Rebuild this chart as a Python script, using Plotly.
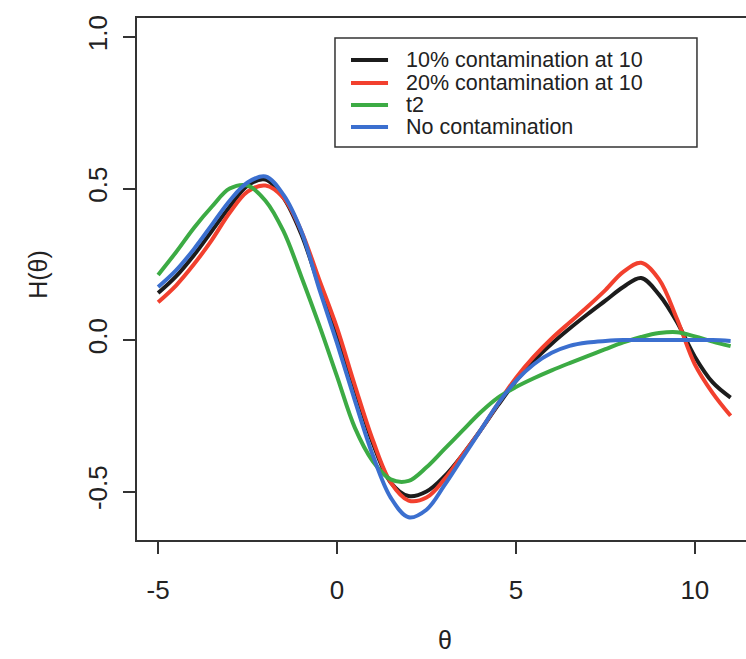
import plotly.graph_objects as go

theta = [-5, -4.5, -4, -3.5, -3, -2.5, -2, -1.5, -1, -0.5, 0, 0.5, 1, 1.5, 2, 2.5, 3,
         3.5, 4, 4.5, 5, 5.5, 6, 6.5, 7, 7.5, 8, 8.5, 9, 9.5, 10, 10.5, 11]

h_cont10 = [0.155, 0.21, 0.28, 0.36, 0.44, 0.51, 0.53, 0.47, 0.35, 0.18, 0.02, -0.16, -0.34,
            -0.47, -0.515, -0.50, -0.45, -0.38, -0.30, -0.215, -0.135, -0.068, -0.012, 0.038,
            0.085, 0.13, 0.175, 0.205, 0.15, 0.06, -0.055, -0.14, -0.19]
h_cont20 = [0.125, 0.18, 0.25, 0.33, 0.42, 0.49, 0.51, 0.47, 0.36, 0.20, 0.04, -0.15, -0.33,
            -0.47, -0.53, -0.52, -0.46, -0.38, -0.30, -0.21, -0.125, -0.055, 0.005, 0.058,
            0.11, 0.165, 0.225, 0.255, 0.20, 0.07, -0.08, -0.175, -0.25]
h_t2 = [0.215, 0.29, 0.37, 0.44, 0.50, 0.51, 0.46, 0.36, 0.21, 0.05, -0.12, -0.29, -0.40,
        -0.46, -0.465, -0.42, -0.36, -0.30, -0.24, -0.19, -0.155, -0.126, -0.1, -0.076,
        -0.053, -0.03, -0.008, 0.01, 0.023, 0.026, 0.012, -0.005, -0.02]
h_none = [0.175, 0.23, 0.30, 0.38, 0.46, 0.52, 0.54, 0.48, 0.36, 0.17, -0.01, -0.20, -0.38,
          -0.52, -0.585, -0.56, -0.48, -0.39, -0.30, -0.21, -0.135, -0.08, -0.042, -0.019,
          -0.008, -0.003, 0.0, 0.0, 0.0, 0.0, 0.0, 0.0, -0.003]

series_names = ["10% contamination at 10", "20% contamination at 10", "t2", "No contamination"]
series_values = [h_cont10, h_cont20, h_t2, h_none]
series_colors = ["#1c1c1c", "#f2402e", "#3cab44", "#3b6fcf"]

x_ticks = [-5, 0, 5, 10]
x_ticktext = ["-5", "0", "5", "10"]
y_ticks = [-0.5, 0.0, 0.5, 1.0]
y_ticktext = ["-0.5", "0.0", "0.5", "1.0"]

fig = go.Figure()
for name, vals, col in zip(series_names, series_values, series_colors):
    fig.add_trace(go.Scatter(x=theta, y=vals, mode="lines", name=name,
                             line=dict(color=col, width=4, shape="spline", smoothing=1.0)))

font_family = "Liberation Sans, Arial, sans-serif"

# legend drawn in paper coordinates (R-style boxed legend)
shapes = [dict(type="rect", xref="paper", yref="paper", x0=0.3251, x1=0.9195,
               y0=0.7529, y1=0.9617, line=dict(color="#333", width=1.5),
               fillcolor="white", layer="above")]
annotations = []
leg_rows = [0.9195, 0.8755, 0.8333, 0.7912]
for name, col, yy in zip(series_names, series_colors, leg_rows):
    shapes.append(dict(type="line", xref="paper", yref="paper", x0=0.3514, x1=0.4122,
                       y0=yy, y1=yy, line=dict(color=col, width=4), layer="above"))
    annotations.append(dict(text=name, xref="paper", yref="paper", x=0.4384, y=yy,
                            xanchor="left", yanchor="middle", showarrow=False,
                            font=dict(size=21.5, color="#222")))

annotations += [
    dict(text="H(θ)", xref="paper", yref="paper", x=0, y=0.508, xanchor="center",
         yanchor="middle", xshift=-99, textangle=-90, showarrow=False,
         font=dict(size=25)),
    dict(text="θ", xref="paper", yref="paper", x=0.506, y=0, xanchor="center",
         yanchor="middle", yshift=-100, showarrow=False, font=dict(size=25)),
]

fig.update_layout(
    width=746, height=659,
    margin=dict(l=137, r=0, t=18, b=119),
    paper_bgcolor="white", plot_bgcolor="white",
    font=dict(family=font_family, color="#222", size=22),
    showlegend=False,
    xaxis=dict(range=[-5.59, 11.43], tickvals=x_ticks, ticktext=x_ticktext,
               showgrid=False, zeroline=False,
               showline=True, mirror=True, linecolor="#333", linewidth=2,
               ticks="outside", ticklen=12, tickwidth=1.5, tickcolor="#333",
               ticklabelstandoff=14, tickfont=dict(size=26)),
    yaxis=dict(range=[-0.66, 1.063], tickvals=y_ticks, ticktext=y_ticktext,
               showgrid=False, zeroline=False,
               showline=True, mirror=False, linecolor="#333", linewidth=2,
               ticks="outside", ticklen=12, tickwidth=1.5, tickcolor="#333",
               tickangle=-90, ticklabelstandoff=6, tickfont=dict(size=26)),
    shapes=shapes,
    annotations=annotations,
)

fig.write_html("out.html")
